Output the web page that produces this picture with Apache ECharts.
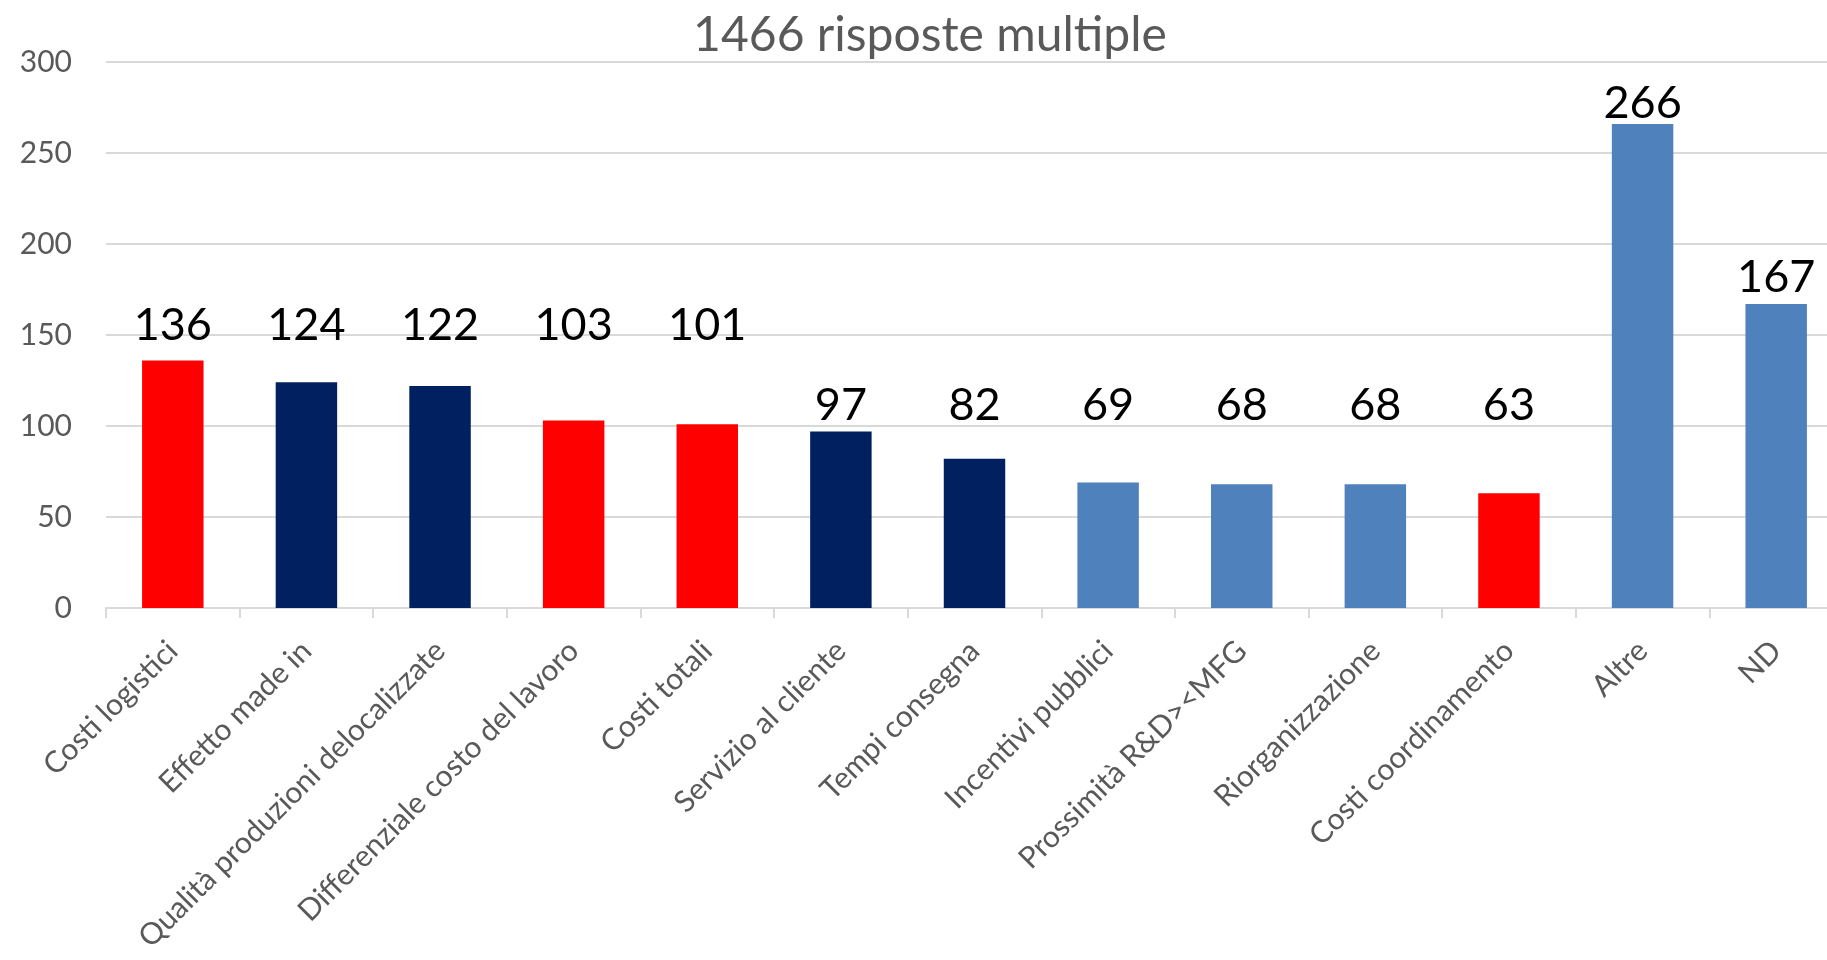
<!DOCTYPE html>
<html>
<head>
<meta charset="utf-8">
<script src="https://cdn.jsdelivr.net/npm/echarts@6/dist/echarts.min.js"></script>
<style>
  html, body { margin: 0; padding: 0; background: #fff; overflow: hidden; }
  /* il grafico originale è tagliato a destra: il contenitore è più largo della finestra */
  #chart { width: 1850px; height: 960px; }
</style>
</head>
<body>
<div id="chart"></div>
<script>
// categorie e valori
const categories = [
  'Costi logistici', 'Effetto made in', 'Qualità produzioni delocalizzate',
  'Differenziale costo del lavoro', 'Costi totali', 'Servizio al cliente',
  'Tempi consegna', 'Incentivi pubblici', 'Prossimità R&D><MFG',
  'Riorganizzazione', 'Costi coordinamento', 'Altre', 'ND'
];
const values = [136, 124, 122, 103, 101, 97, 82, 69, 68, 68, 63, 266, 167];
// tipo di motivazione -> colore
const kinds = ['costo', 'mercato', 'mercato', 'costo', 'costo', 'mercato', 'mercato',
  'altro', 'altro', 'altro', 'costo', 'altro', 'altro'];
// etichette allineate a gruppi come nel grafico originale
const labelGroups = [0, 0, 0, 0, 0, 1, 1, 1, 1, 1, 1, 2, 3];
const yTicks = [0, 50, 100, 150, 200, 250, 300];

const kindColor = { costo: '#FF0000', mercato: '#002060', altro: '#4F81BD' };
const groupDistance = [12, 3, -2, 4];

const gridTop = 62, gridHeight = 546;
const yMax = yTicks[yTicks.length - 1];
const pxPerUnit = gridHeight / yMax;

// valore massimo per ogni gruppo di etichette
const groupMax = {};
values.forEach((v, i) => {
  const g = labelGroups[i];
  groupMax[g] = Math.max(groupMax[g] || 0, v);
});

const seriesData = values.map((v, i) => ({
  value: v,
  itemStyle: { color: kindColor[kinds[i]] },
  label: {
    distance: groupDistance[labelGroups[i]],
    offset: [0, -(groupMax[labelGroups[i]] - v) * pxPerUnit]
  }
}));

const myChart = echarts.init(document.getElementById('chart'));
myChart.setOption({
  animation: false,
  textStyle: { fontFamily: 'Lato' },
  title: {
    text: '1466 risposte multiple',
    left: 925,
    top: 7,
    textAlign: 'center',
    textStyle: { fontSize: 48, fontWeight: 'normal', color: '#595959', fontFamily: 'Lato' }
  },
  grid: {
    left: 106,
    top: gridTop,
    width: 1737,
    height: gridHeight,
    containLabel: false
  },
  xAxis: {
    type: 'category',
    data: categories,
    axisLine: { lineStyle: { color: '#D9D9D9', width: 2 } },
    axisTick: { show: true, length: 10, lineStyle: { color: '#D9D9D9', width: 2 } },
    axisLabel: {
      interval: 0,
      rotate: 45,
      margin: 38,
      fontSize: 30,
      color: '#595959',
      fontFamily: 'Lato'
    },
    splitLine: { show: false }
  },
  yAxis: {
    type: 'value',
    min: yTicks[0],
    max: yMax,
    interval: yTicks[1] - yTicks[0],
    axisLine: { show: false },
    axisTick: { show: false },
    axisLabel: { fontSize: 30, color: '#595959', margin: 34, fontFamily: 'Lato' },
    splitLine: { lineStyle: { color: '#D9D9D9', width: 2 } }
  },
  series: [{
    type: 'bar',
    barWidth: '46%',
    data: seriesData,
    label: {
      show: true,
      position: 'top',
      fontSize: 45,
      color: '#000000',
      fontFamily: 'Lato'
    }
  }]
});
</script>
</body>
</html>
